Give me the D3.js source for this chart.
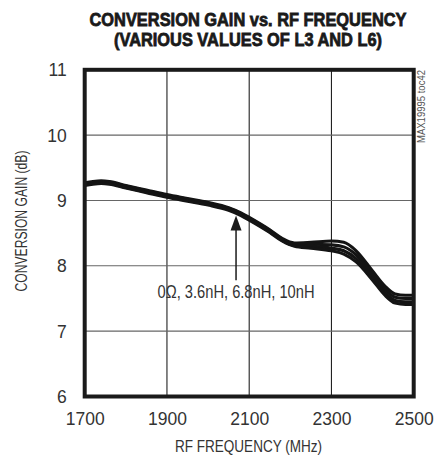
<!DOCTYPE html>
<html>
<head>
<meta charset="utf-8">
<script src="https://cdn.jsdelivr.net/npm/d3@7"></script>
<style>
  html, body { margin: 0; padding: 0; background: #fff; }
  svg { display: block; }
  text { font-family: 'Liberation Sans Narrow', 'Arial Narrow', 'Liberation Sans', sans-serif; }
</style>
</head>
<body>
<script>
// ---- data ----
const freqs = [1700,1720,1740,1760,1800,1850,1900,1950,2000,2050,2080,2100,2150,2180,2210,2250,2300,2330,2360,2400,2430,2455,2480,2500];
const gain0R   = [9.27,9.29,9.30,9.29,9.23,9.16,9.09,9.03,8.97,8.89,8.81,8.74,8.55,8.42,8.35,8.36,8.38,8.36,8.23,7.92,7.69,7.57,7.55,7.55];
const gain3n6H = [9.26,9.28,9.29,9.28,9.22,9.15,9.08,9.02,8.96,8.88,8.80,8.73,8.54,8.41,8.33,8.33,8.32,8.29,8.17,7.87,7.64,7.52,7.50,7.50];
const gain6n8H = [9.24,9.26,9.27,9.26,9.20,9.13,9.06,9.00,8.94,8.86,8.78,8.71,8.52,8.39,8.31,8.30,8.27,8.23,8.11,7.82,7.59,7.47,7.45,7.45];
const gain10nH = [9.23,9.25,9.26,9.25,9.19,9.12,9.05,8.99,8.93,8.85,8.77,8.70,8.51,8.38,8.30,8.27,8.23,8.18,8.06,7.78,7.55,7.43,7.41,7.41];
const xTicks = [1700,1900,2100,2300,2500];
const yTicks = [6,7,8,9,10,11];
const titleLines = ["CONVERSION GAIN vs. RF FREQUENCY", "(VARIOUS VALUES OF L3 AND L6)"];
const xLabel = "RF FREQUENCY (MHz)";
const yLabel = "CONVERSION GAIN (dB)";
const annotation = "0\u03A9, 3.6nH, 6.8nH, 10nH";
const sideNote = "MAX19995 toc42";

const W = 441, H = 458;
const svg = d3.select("body").append("svg").attr("width", W).attr("height", H);

const x = d3.scaleLinear().domain([1700, 2500]).range([84.7, 413.7]);
const y = d3.scaleLinear().domain([6, 11]).range([396.5, 69.8]);

// title
svg.append("text").attr("x", 248).attr("y", 25.5).attr("text-anchor", "middle")
  .attr("font-size", 18.5).attr("font-weight", "bold").attr("fill", "#1a1a1a")
  .attr("stroke", "#1a1a1a").attr("stroke-width", 0.8)
  .attr("textLength", 317).attr("lengthAdjust", "spacingAndGlyphs").text(titleLines[0]);
svg.append("text").attr("x", 248).attr("y", 45.5).attr("text-anchor", "middle")
  .attr("font-size", 18.5).attr("font-weight", "bold").attr("fill", "#1a1a1a")
  .attr("stroke", "#1a1a1a").attr("stroke-width", 0.8)
  .attr("textLength", 268).attr("lengthAdjust", "spacingAndGlyphs").text(titleLines[1]);

// gridlines
const g = svg.append("g");
g.selectAll("line.vg").data(xTicks.slice(1, -1)).enter().append("line")
  .attr("x1", d => x(d)).attr("x2", d => x(d)).attr("y1", y(6)).attr("y2", y(11))
  .attr("stroke", "#222").attr("stroke-width", 1.1);
g.selectAll("line.hg").data(yTicks.slice(1, -1)).enter().append("line")
  .attr("x1", x(1700)).attr("x2", x(2500)).attr("y1", d => y(d)).attr("y2", d => y(d))
  .attr("stroke", "#666").attr("stroke-width", 1.1);

// axes tick labels via d3 axes
const xAxis = d3.axisBottom(x).tickValues(xTicks).tickSize(0).tickPadding(0).tickFormat(d3.format("d"));
const xa = svg.append("g").attr("transform", `translate(0,${y(6)})`).call(xAxis);
xa.select(".domain").remove();
xa.selectAll("text").attr("dy", null).attr("y", 28.5).attr("font-size", 17.5).attr("fill", "#333")
  .attr("font-family", "'Liberation Sans Narrow', 'Arial Narrow', 'Liberation Sans', sans-serif");

const yAxis = d3.axisLeft(y).tickValues(yTicks).tickSize(0).tickPadding(0).tickFormat(d3.format("d"));
const ya = svg.append("g").attr("transform", `translate(${x(1700)},0)`).call(yAxis);
ya.select(".domain").remove();
ya.selectAll("text").attr("x", -18).attr("dy", "0.34em").attr("font-size", 17.5).attr("fill", "#333")
  .attr("font-family", "'Liberation Sans Narrow', 'Arial Narrow', 'Liberation Sans', sans-serif");

// axis labels
svg.append("text").attr("x", 248.5).attr("y", 452).attr("text-anchor", "middle")
  .attr("font-size", 17).attr("fill", "#333")
  .attr("textLength", 147).attr("lengthAdjust", "spacingAndGlyphs").text(xLabel);
svg.append("text").attr("transform", "translate(27,221) rotate(-90)").attr("text-anchor", "middle")
  .attr("font-size", 16.5).attr("fill", "#333")
  .attr("textLength", 141).attr("lengthAdjust", "spacingAndGlyphs").text(yLabel);

// side note
svg.append("text").attr("transform", "translate(425,143) rotate(-90)").attr("text-anchor", "start")
  .attr("font-size", 10).attr("fill", "#555")
  .attr("textLength", 73).attr("lengthAdjust", "spacingAndGlyphs").text(sideNote);

// curves
const series = [gain0R, gain3n6H, gain6n8H, gain10nH];
const line = d3.line().x((d, i) => x(freqs[i])).y(d => y(d)).curve(d3.curveMonotoneX);
svg.append("g").selectAll("path").data(series).enter().append("path")
  .attr("d", d => line(d)).attr("fill", "none").attr("stroke", "#141414")
  .attr("stroke-width", 3.1).attr("stroke-linejoin", "round");

// annotation arrow
const ax = x(2068), tipY = y(8.77), tailY = y(7.78);
svg.append("line").attr("x1", ax).attr("x2", ax).attr("y1", tipY + 10).attr("y2", tailY)
  .attr("stroke", "#1a1a1a").attr("stroke-width", 1.5);
svg.append("path").attr("d", `M${ax},${tipY} L${ax - 5.5},${tipY + 15} L${ax + 5.5},${tipY + 15} Z`)
  .attr("fill", "#1a1a1a");
svg.append("text").attr("x", ax).attr("y", y(7.5)).attr("text-anchor", "middle")
  .attr("font-size", 17.5).attr("fill", "#333")
  .attr("textLength", 157).attr("lengthAdjust", "spacingAndGlyphs").text(annotation);

// frame
svg.append("rect").attr("x", x(1700)).attr("y", y(11)).attr("width", x(2500) - x(1700)).attr("height", y(6) - y(11))
  .attr("fill", "none").attr("stroke", "#1a1a1a").attr("stroke-width", 4);
</script>
</body>
</html>
